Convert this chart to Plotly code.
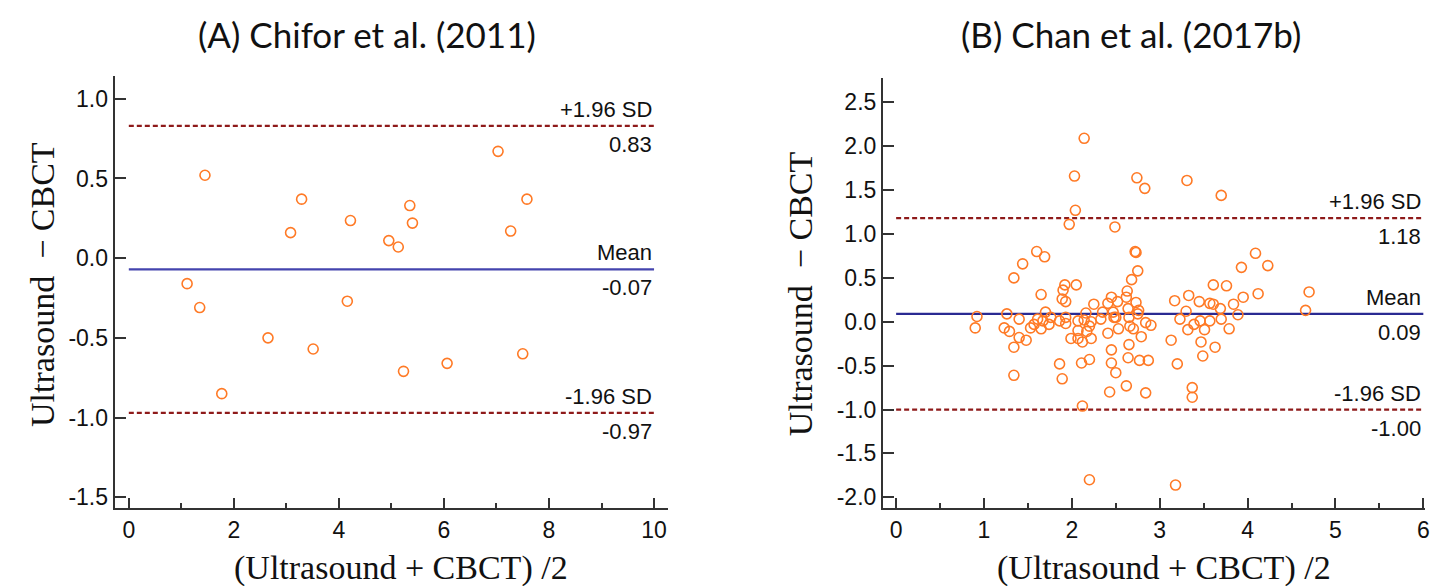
import plotly.graph_objects as go

# ---------------- Data ----------------
# Panel A: Chifor et al. (2011)
a_mean_x = [1.45, 3.29, 3.08, 4.22, 5.35, 5.40, 4.95, 5.13, 7.03, 7.58, 7.27,
            1.11, 1.35, 4.16, 2.65, 3.51, 1.77, 5.23, 6.06, 7.50]
a_diff_y = [0.52, 0.37, 0.16, 0.236, 0.33, 0.22, 0.11, 0.07, 0.67, 0.37, 0.17,
            -0.16, -0.31, -0.27, -0.50, -0.57, -0.85, -0.71, -0.66, -0.60]
a_upper, a_bias, a_lower = 0.83, -0.07, -0.97

# Panel B: Chan et al. (2017b)
b_mean_x = [2.14, 2.03, 2.74, 2.83, 3.31, 3.70, 2.04, 1.97, 2.49, 1.60, 1.69, 2.72, 2.73,
            1.44, 4.09, 4.23, 3.93, 1.34, 2.75, 2.68, 1.92, 2.05, 1.90, 3.61, 3.76, 4.70,
            1.65, 1.89, 1.93, 2.63, 2.45, 2.62, 3.17, 3.33, 3.45, 3.57, 3.61, 4.12, 3.95,
            2.25, 2.41, 2.52, 2.73, 3.84, 3.69, 2.76, 2.64, 3.30, 4.66, 1.26, 0.92, 1.70,
            2.16, 2.35, 2.47, 2.75, 3.89, 0.90, 1.23, 1.29, 1.40, 1.53, 1.57, 1.61, 1.65,
            1.67, 1.74, 1.76, 1.86, 1.93, 1.93, 2.07, 2.07, 2.14, 2.20, 2.22, 2.17, 1.99,
            2.07, 2.12, 2.22, 2.33, 2.41, 2.48, 2.50, 2.53, 2.65, 2.66, 2.70, 2.84, 2.90,
            2.79, 2.65, 2.45, 1.48, 1.40, 1.34, 3.23, 3.32, 3.39, 3.46, 3.51, 3.57, 3.70,
            3.79, 3.13, 3.47, 3.63, 3.49, 1.86, 1.89, 1.34, 2.11, 2.20, 2.45, 2.50, 2.64,
            2.77, 2.87, 3.20, 2.62, 2.43, 2.84, 3.37, 3.37, 2.12, 2.20, 3.18]
b_diff_y = [2.09, 1.66, 1.64, 1.52, 1.61, 1.44, 1.27, 1.11, 1.08, 0.80, 0.74, 0.80, 0.79,
            0.66, 0.78, 0.64, 0.62, 0.50, 0.58, 0.48, 0.42, 0.42, 0.36, 0.42, 0.41, 0.34,
            0.31, 0.26, 0.23, 0.35, 0.28, 0.28, 0.24, 0.30, 0.23, 0.21, 0.20, 0.32, 0.28,
            0.20, 0.21, 0.23, 0.22, 0.20, 0.15, 0.13, 0.15, 0.12, 0.13, 0.09, 0.06, 0.11,
            0.10, 0.11, 0.11, 0.09, 0.08, -0.07, -0.07, -0.11, 0.03, -0.07, -0.03, 0.03, -0.08,
            0.01, -0.03, 0.05, 0.01, 0.05, -0.02, 0.01, -0.10, 0.02, -0.05, 0.00, -0.11, -0.19,
            -0.19, -0.23, -0.19, 0.03, -0.13, 0.05, 0.05, -0.08, 0.05, -0.05, -0.08, -0.01, -0.04,
            -0.17, -0.26, -0.32, -0.21, -0.18, -0.29, 0.03, -0.09, -0.03, 0.01, -0.09, 0.01, 0.03,
            -0.08, -0.21, -0.23, -0.29, -0.39, -0.48, -0.65, -0.61, -0.47, -0.43, -0.47, -0.58, -0.41,
            -0.44, -0.44, -0.48, -0.73, -0.80, -0.81, -0.75, -0.86, -0.96, -1.80, -1.86]
b_upper, b_bias, b_lower = 1.18, 0.09, -1.00

titles = ["(A) Chifor et al. (2011)", "(B) Chan et al. (2017b)"]
y_title = "Ultrasound\u00a0\u00a0\u2212\u00a0CBCT"
x_title = "(Ultrasound + CBCT) /2"

a_yticks = [1.0, 0.5, 0.0, -0.5, -1.0, -1.5]
a_ytext = ["1.0", "0.5", "0.0", "-0.5", "-1.0", "-1.5"]
b_yticks = [2.5, 2.0, 1.5, 1.0, 0.5, 0.0, -0.5, -1.0, -1.5, -2.0]
b_ytext = ["2.5", "2.0", "1.5", "1.0", "0.5", "0.0", "-0.5", "-1.0", "-1.5", "-2.0"]
a_xticks = [0, 2, 4, 6, 8, 10]
b_xticks = [0, 1, 2, 3, 4, 5, 6]

# ---------------- Styles ----------------
W, H = 1442, 586
ORANGE = "#FF7A26"
DRED = "#8E1A1A"
BLUES = ["#4444AE", "#2A2A92"]
TICKFONT = dict(family="Liberation Sans", size=23, color="#111")
LBLFONT = dict(family="Liberation Sans", size=22, color="#111")
SERIF = dict(family="Liberation Serif", size=34, color="#111")
TITLEFONT = dict(family="Lato", size=35, color="#111")
AXC = "#333"

fig = go.Figure()

panels = [
    dict(x=a_mean_x, y=a_diff_y, up=a_upper, bias=a_bias, lo=a_lower, xmax=10,
         xa="x", ya="y", xdom=[107 / W, 662 / W], ydom=[1 - 502 / H, 1 - 68 / H],
         xr=[-0.27, 10.26], yr=[-1.569, 1.144], yt=a_yticks, ytt=a_ytext,
         xt=a_xticks, minor=1, ytitle_x=34 / W, ytitle_y=1 - 277 / H, title_x=360 / W),
    dict(x=b_mean_x, y=b_diff_y, up=b_upper, bias=b_bias, lo=b_lower, xmax=6,
         xa="x2", ya="y2", xdom=[878 / W, 1422 / W], ydom=[1 - 502 / H, 1 - 70 / H],
         xr=[-0.15, 6.02], yr=[-2.125, 2.78], yt=b_yticks, ytt=b_ytext,
         xt=b_xticks, minor=0.5, ytitle_x=795 / W, ytitle_y=1 - 287 / H, title_x=1127 / W),
]

for i, p in enumerate(panels):
    for val, col, dash in [(p["up"], DRED, "5px,3px"), (p["lo"], DRED, "5px,3px"),
                           (p["bias"], BLUES[i], "solid")]:
        fig.add_trace(go.Scatter(x=[0, p["xmax"]], y=[val, val], mode="lines",
                                 line=dict(color=col, width=2.2, dash=dash),
                                 xaxis=p["xa"], yaxis=p["ya"], showlegend=False, hoverinfo="skip"))
    fig.add_trace(go.Scatter(x=p["x"], y=p["y"], mode="markers",
                             marker=dict(symbol="circle-open", size=10, color=ORANGE,
                                         line=dict(width=1.6, color=ORANGE)),
                             xaxis=p["xa"], yaxis=p["ya"], showlegend=False))
    for val, lab in [(p["up"], "+1.96 SD"), (p["bias"], "Mean"), (p["lo"], "-1.96 SD")]:
        fig.add_annotation(x=p["xmax"], y=val, xref=p["xa"], yref=p["ya"], text=lab,
                           showarrow=False, xanchor="right", yanchor="bottom",
                           yshift=2, font=LBLFONT)
        fig.add_annotation(x=p["xmax"], y=val, xref=p["xa"], yref=p["ya"],
                           text=f"{val:.2f}", showarrow=False, xanchor="right",
                           yanchor="top", yshift=-4, font=LBLFONT)
    axn = "" if i == 0 else "2"
    fig.layout["xaxis" + axn] = dict(
        domain=p["xdom"], range=p["xr"], anchor=p["ya"], showline=True, linecolor=AXC,
        linewidth=2, ticks="inside", ticklen=10, tickwidth=1.5, tickcolor=AXC,
        tickvals=p["xt"], ticktext=[str(t) for t in p["xt"]], tickfont=TICKFONT,
        showgrid=False, zeroline=False, fixedrange=True,
        minor=dict(ticks="inside", ticklen=5, tickwidth=1.5, tickcolor=AXC,
                   dtick=p["minor"], tick0=0, showgrid=False))
    fig.layout["yaxis" + axn] = dict(
        domain=p["ydom"], range=p["yr"], anchor=p["xa"], showline=True, linecolor=AXC,
        linewidth=2, ticks="inside", ticklen=11, tickwidth=1.5, tickcolor=AXC,
        tickvals=p["yt"], ticktext=p["ytt"], tickfont=TICKFONT,
        showgrid=False, zeroline=False, fixedrange=True)
    fig.add_annotation(x=p["title_x"], y=1 - 26 / H, xref="paper", yref="paper",
                       text=titles[i], showarrow=False, xanchor="center", yanchor="middle",
                       font=TITLEFONT)
    fig.add_annotation(x=(p["xdom"][0] + p["xdom"][1]) / 2 + 10 / W, y=1 - 562 / H,
                       xref="paper", yref="paper", text=x_title, showarrow=False,
                       xanchor="center", yanchor="middle", font=SERIF)
    fig.add_annotation(x=p["ytitle_x"], y=p["ytitle_y"], xref="paper",
                       yref="paper", text=y_title, showarrow=False, textangle=-90,
                       xanchor="center", yanchor="middle", font=SERIF)

fig.update_layout(width=W, height=H, margin=dict(l=0, r=0, t=0, b=0),
                  paper_bgcolor="white", plot_bgcolor="white", showlegend=False)

fig.write_html("out.html")
